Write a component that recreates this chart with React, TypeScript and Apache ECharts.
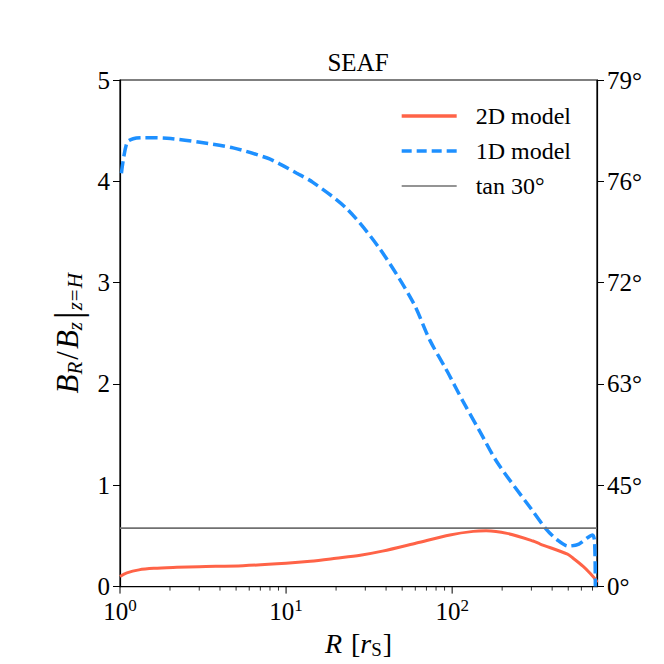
import React, { useEffect, useRef } from "react";
import * as echarts from "echarts";

const FONT = "'Liberation Serif', 'DejaVu Serif', serif";

const X_MIN = 1;
const X_MAX = 745;

// 2D model: [R, B_R/B_z]
const model2D: number[][] = [
  [1, 0.1], [1.1, 0.135], [1.3, 0.165], [1.6, 0.18], [2.2, 0.19], [3, 0.197],
  [5.5, 0.206], [10, 0.23], [14, 0.25], [20, 0.28], [28, 0.31], [38, 0.35],
  [61, 0.43], [97, 0.51], [134, 0.545], [160, 0.55], [214, 0.525], [307, 0.45],
  [339, 0.42], [495, 0.32], [535, 0.28], [615, 0.2], [679, 0.13], [730, 0.07], [745, 0.04],
];

// 1D model
const model1D: number[][] = [
  [1.02, 4.08], [1.1, 4.38], [1.2, 4.42], [1.4, 4.43], [1.92, 4.425], [3.03, 4.385],
  [4.8, 4.33], [7.7, 4.23], [9.2, 4.17], [11.6, 4.08], [14.5, 3.99], [23.2, 3.73],
  [36.8, 3.33], [58, 2.81], [73.5, 2.43], [93, 2.13], [116, 1.83], [147, 1.53],
  [187, 1.225], [295, 0.78], [367, 0.57], [430, 0.46], [500, 0.4], [580, 0.42],
  [650, 0.48], [700, 0.51], [720, 0.45], [728, 0.0],
];

// tan 30° reference line
const tanLine: number[][] = [[1, 0.577], [745, 0.577]];

// x ticks: [value, isMajor]
const xTicks: number[][] = [
  [1, 1], [2, 0], [3, 0], [4, 0], [5, 0], [6, 0], [7, 0], [8, 0], [9, 0],
  [10, 1], [20, 0], [30, 0], [40, 0], [50, 0], [60, 0], [70, 0], [80, 0], [90, 0],
  [100, 1], [200, 0], [300, 0], [400, 0], [500, 0], [600, 0], [700, 0],
];

const rightLabels = ["0°", "45°", "63°", "72°", "76°", "79°"];
const seriesNames = ["2D model", "1D model", "tan 30°"];
const colors = ["#FF6347", "#1E90FF", "#707070"];

export default function App() {
  const ref = useRef<HTMLDivElement>(null);
  useEffect(() => {
    const chart = echarts.init(ref.current!, null, { renderer: "svg" });
    const txt = { fontFamily: FONT, color: "#000" };
    chart.setOption({
      animation: false,
      backgroundColor: "#fff",
      textStyle: { fontFamily: FONT, color: "#000" },
      grid: { left: 120, right: 67, top: 80, bottom: 74, show: true, borderColor: "#000", borderWidth: 1.2, containLabel: false },
      graphic: [
        {
          type: "text", x: 358, y: 62,
          style: { text: "SEAF", textAlign: "center", textVerticalAlign: "middle", font: `25px ${FONT}`, fill: "#000" },
        },
      ],
      legend: {
        data: [
          { name: seriesNames[0], lineStyle: { color: colors[0], width: 3.5, type: "solid" } },
          { name: seriesNames[1], lineStyle: { color: colors[1], width: 3.5, type: [10, 5] } },
          { name: seriesNames[2], lineStyle: { color: colors[2], width: 1.6, type: "solid" } },
        ],
        orient: "vertical",
        right: 88,
        top: 98,
        itemWidth: 55,
        itemHeight: 14,
        itemGap: 9,
        itemStyle: { color: "rgba(0,0,0,0)", borderWidth: 0, opacity: 0 },
        textStyle: { fontFamily: FONT, color: "#000", fontSize: 24, lineHeight: 26, padding: [0, 0, 0, 14] },
      },
      xAxis: {
        type: "log",
        logBase: 10,
        min: X_MIN,
        max: X_MAX,
        axisLine: { show: true, lineStyle: { color: "#000", width: 1.2 } },
        axisTick: { show: false },
        splitLine: { show: false },
        axisLabel: {
          margin: 10,
          showMaxLabel: false,
          formatter: (v: number) => {
            const e = Math.round(Math.log10(v));
            if (Math.abs(Math.pow(10, e) - v) / v > 1e-6) return "";
            return `{b|10}{sup|${e}}`;
          },
          rich: {
            b: { ...txt, fontSize: 25, lineHeight: 30 },
            sup: { ...txt, fontSize: 17, lineHeight: 14, verticalAlign: "top" },
          },
        },
        name: "{i|R}{sp|[}{i|r}{s|S}{n|]}",
        nameLocation: "middle",
        nameGap: 39,
        nameTextStyle: {
          rich: {
            i: { ...txt, fontSize: 28, fontStyle: "italic", lineHeight: 32 },
            n: { ...txt, fontSize: 28, lineHeight: 32 },
            sp: { ...txt, fontSize: 28, lineHeight: 32, padding: [0, 0, 0, 9] },
            s: { ...txt, fontSize: 19, lineHeight: 18, verticalAlign: "bottom", padding: [0, 1, 0, 0] },
          },
        },
      },
      yAxis: [
        {
          type: "value",
          min: 0,
          max: 5,
          interval: 1,
          position: "left",
          axisLine: { show: true, lineStyle: { color: "#000", width: 1.2 } },
          axisTick: { show: true, inside: false, length: 7, lineStyle: { color: "#000", width: 1 } },
          splitLine: { show: false },
          axisLabel: { ...txt, fontSize: 25, margin: 10 },
          name: "{i|B}{s|R}{n|/}{i|B}{s|z}{bar||}{s|z}{eq|=}{s|H}",
          nameLocation: "middle",
          nameRotate: 90,
          nameGap: 33,
          nameTextStyle: {
            rich: {
              i: { ...txt, fontSize: 31, fontStyle: "italic", lineHeight: 36 },
              n: { ...txt, fontSize: 31, lineHeight: 36, padding: [0, 2, 0, 2] },
              bar: { ...txt, fontSize: 38, lineHeight: 36, padding: [0, 1, 0, 3] },
              s: { ...txt, fontSize: 21, fontStyle: "italic", lineHeight: 22, verticalAlign: "bottom" },
              eq: { ...txt, fontSize: 21, lineHeight: 22, verticalAlign: "bottom", padding: [0, 1, 0, 1] },
            },
          },
        },
        {
          type: "value",
          min: 0,
          max: 5,
          interval: 1,
          position: "right",
          axisLine: { show: true, lineStyle: { color: "#000", width: 1.2 } },
          axisTick: { show: true, inside: false, length: 7, lineStyle: { color: "#000", width: 1 } },
          splitLine: { show: false },
          axisLabel: {
            ...txt,
            fontSize: 25,
            margin: 10,
            formatter: (_v: number, i: number) => rightLabels[i] ?? "",
          },
        },
      ],
      series: [
        {
          name: seriesNames[0],
          type: "line",
          data: model2D,
          showSymbol: false,
          symbol: "none",
          smooth: 0.3,
          lineStyle: { color: colors[0], width: 3 },
          itemStyle: { color: colors[0] },
          z: 3,
        },
        {
          name: seriesNames[1],
          type: "line",
          data: model1D,
          showSymbol: false,
          symbol: "none",
          smooth: 0.3,
          lineStyle: { color: colors[1], width: 3.5, type: [12, 5] },
          itemStyle: { color: colors[1] },
          z: 4,
        },
        {
          name: seriesNames[2],
          type: "line",
          data: tanLine,
          showSymbol: false,
          symbol: "none",
          lineStyle: { color: colors[2], width: 1.6 },
          itemStyle: { color: colors[2] },
          z: 5,
        },
        {
          type: "custom",
          data: xTicks.map((t) => [t[0], 0, t[1]]),
          encode: { x: 0, y: 1 },
          clip: false,
          silent: true,
          z: 6,
          renderItem: (_p: any, api: any) => {
            const v = api.value(0);
            const major = api.value(2);
            const p = api.coord([v, 0]);
            return {
              type: "line",
              shape: { x1: p[0], y1: p[1], x2: p[0], y2: p[1] + (major ? 7 : 4) },
              style: { stroke: "#000", lineWidth: major ? 1 : 0.8 },
            };
          },
        },
      ],
    });
    return () => chart.dispose();
  }, []);
  return <div ref={ref} style={{ position: "fixed", left: 0, top: 0, width: 664, height: 664, background: "#fff" }} />;
}
